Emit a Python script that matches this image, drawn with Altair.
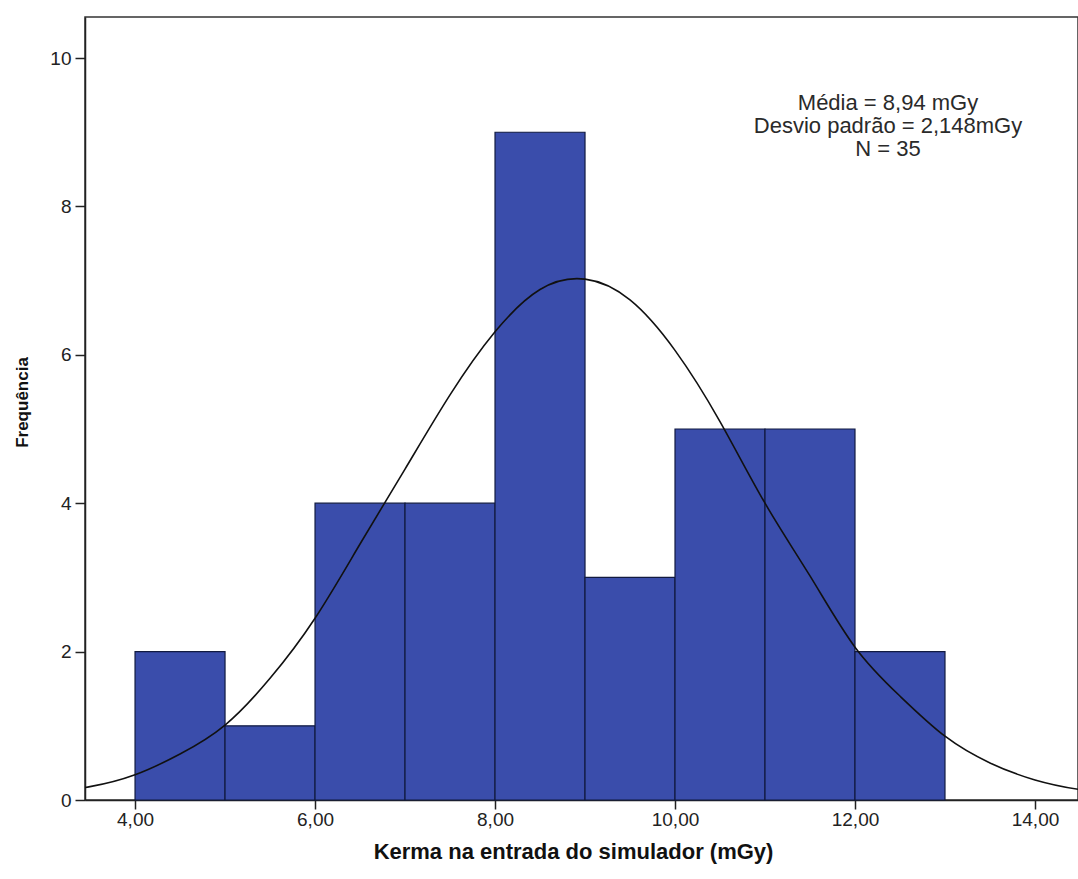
import altair as alt
import pandas as pd

# histogram bins (mGy) and counts
bin_start = [4, 5, 6, 7, 8, 9, 10, 11, 12]
bin_end = [5, 6, 7, 8, 9, 10, 11, 12, 13]
counts = [2, 1, 4, 4, 9, 3, 5, 5, 2]

# normal curve points
curve_x = [3.0, 3.5, 4.0, 4.5, 5.0, 5.5, 6.0, 6.5, 7.0, 7.5, 8.0, 8.5, 9.0, 9.5, 10.0, 10.5, 11.0, 11.5, 12.0, 12.5, 13.0, 13.5, 14.0, 14.5, 15.0]
curve_y = [0.1, 0.18, 0.34, 0.62, 1.01, 1.64, 2.45, 3.45, 4.46, 5.46, 6.31, 6.88, 7.02, 6.74, 6.06, 5.1, 4.0, 3.02, 2.06, 1.4, 0.86, 0.5, 0.27, 0.14, 0.07]

x_ticks = [4, 6, 8, 10, 12, 14]
y_ticks = [0, 2, 4, 6, 8, 10]
stats_lines = ["Média = 8,94 mGy", "Desvio padrão = 2,148mGy", "N = 35"]

bars_df = pd.DataFrame({"start": bin_start, "end": bin_end, "count": counts})
curve_df = pd.DataFrame({"x": curve_x, "y": curve_y})

xscale = alt.Scale(domain=[3.444, 14.478], nice=False, zero=False)
yscale = alt.Scale(domain=[0, 10.553], nice=False)

xaxis = alt.Axis(
    values=x_ticks,
    labelExpr="replace(format(datum.value, '.2f'), '.', ',')",
    title="Kerma na entrada do simulador (mGy)",
    grid=False,
    tickSize=9,
    labelPadding=1,
    labelFontSize=19,
    titleFontSize=22,
    titlePadding=12,
    titleX=488,
)
yaxis = alt.Axis(
    values=y_ticks,
    format="d",
    title="Frequência",
    grid=False,
    tickSize=10,
    labelPadding=4,
    labelFontSize=19,
    titleFontSize=17,
    titlePadding=18,
    titleY=385,
)

bars = alt.Chart(bars_df).mark_rect(
    color="#3a4dab", stroke="#111a40", strokeWidth=1.2
).encode(
    x=alt.X("start:Q", scale=xscale, axis=xaxis),
    x2="end:Q",
    y=alt.Y("count:Q", scale=yscale, axis=yaxis),
    y2=alt.datum(0),
)

curve = alt.Chart(curve_df).mark_line(
    color="#111111", strokeWidth=1.6, interpolate="natural", clip=True
).encode(
    x=alt.X("x:Q", scale=xscale),
    y=alt.Y("y:Q", scale=yscale),
)

stats = alt.Chart(pd.DataFrame({"t": [0]})).mark_text(
    text=stats_lines,
    font="Liberation Sans",
    fontSize=22,
    lineHeight=23,
    align="center",
    baseline="alphabetic",
    color="#2a2a2a",
).encode(x=alt.value(803), y=alt.value(93))

chart = alt.layer(bars, curve, stats).properties(
    width=993,
    height=783,
    background="white",
    autosize=alt.AutoSizeParams(type="none"),
    padding={"left": 85, "top": 17, "right": 0, "bottom": 79},
).configure_view(
    stroke="#333333", strokeWidth=1.5
).configure_axis(
    labelFont="Liberation Sans",
    labelColor="#222222",
    titleFont="Liberation Sans",
    titleFontWeight="bold",
    titleColor="#111111",
    domainColor="#222222",
    domainWidth=1.5,
    tickColor="#222222",
    tickWidth=1.5,
)

chart.save("out.html", embed_options={"renderer": "svg", "actions": False})
